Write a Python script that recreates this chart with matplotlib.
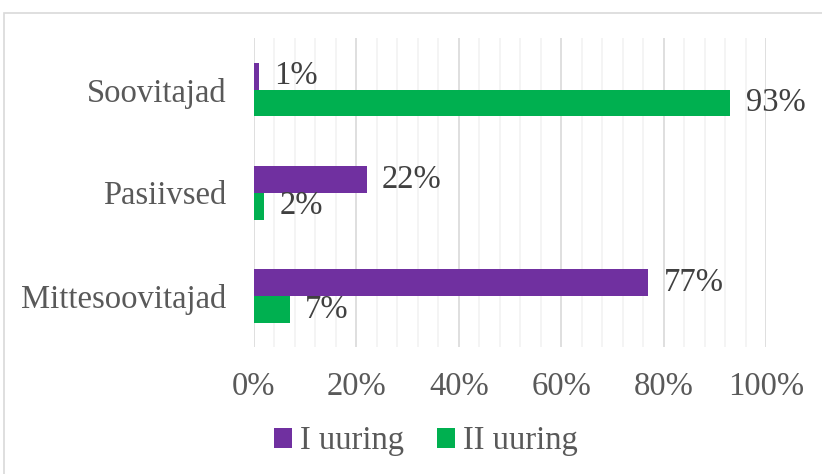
import matplotlib
matplotlib.use("Agg")
import matplotlib.pyplot as plt
import matplotlib.patches as mpatches
from matplotlib.ticker import MultipleLocator, PercentFormatter
import numpy as np

categories = ["Soovitajad", "Pasiivsed", "Mittesoovitajad"]
uuring1 = [1, 22, 77]
uuring2 = [93, 2, 7]
series_names = ["I uuring", "II uuring"]
colors = ["#7030A0", "#00B050"]

plt.rcParams['font.family'] = ['Liberation Serif', 'DejaVu Serif']
fs = 23.5

fig = plt.figure(figsize=(8.22, 4.74), dpi=100)
ax = fig.add_axes([0.309, 0.267, 0.623, 0.653])

# chart border
fig.patches.append(mpatches.Rectangle((0.005, -0.1), 1.2, 1.0726, transform=fig.transFigure,
                                      fill=False, edgecolor="#D9D9D9", lw=1.2))

y = np.arange(len(categories))
h = 0.26
b1 = ax.barh(y - h / 2, uuring1, height=h, color=colors[0], label=series_names[0], zorder=3)
b2 = ax.barh(y + h / 2, uuring2, height=h, color=colors[1], label=series_names[1], zorder=3)

for bars, vals in ((b1, uuring1), (b2, uuring2)):
    for bar, v in zip(bars, vals):
        ax.annotate(f"{v}%", (bar.get_width(), bar.get_y() + bar.get_height() / 2),
                    xytext=(11, 0), textcoords="offset points", ha="left", va="center",
                    fontsize=fs, color="#404040")

ax.set_xlim(0, 100)
ax.set_ylim(2.5, -0.5)
ax.xaxis.set_major_locator(MultipleLocator(20))
ax.xaxis.set_minor_locator(MultipleLocator(4))
ax.xaxis.set_major_formatter(PercentFormatter(decimals=0))
ax.grid(axis="x", which="major", color="#D9D9D9", lw=1.2, zorder=0)
ax.grid(axis="x", which="minor", color="#F2F2F2", lw=1.2, zorder=0)
ax.set_yticks(y)
ax.set_yticklabels(categories)
ax.tick_params(axis="both", which="both", length=0, labelsize=fs, labelcolor="#595959")
ax.tick_params(axis="x", pad=17)
ax.tick_params(axis="y", pad=20)
for s in ax.spines.values():
    s.set_visible(False)

leg = fig.legend(handles=[b1, b2], labels=series_names, loc="center", bbox_to_anchor=(0.518, 1 - 441 / 474),
                 ncol=2, frameon=False, fontsize=fs, handlelength=0.55, handleheight=0.55,
                 handletextpad=0.25, columnspacing=1.0)
for t in leg.get_texts():
    t.set_color("#595959")

fig.savefig("out.png", dpi=100)
